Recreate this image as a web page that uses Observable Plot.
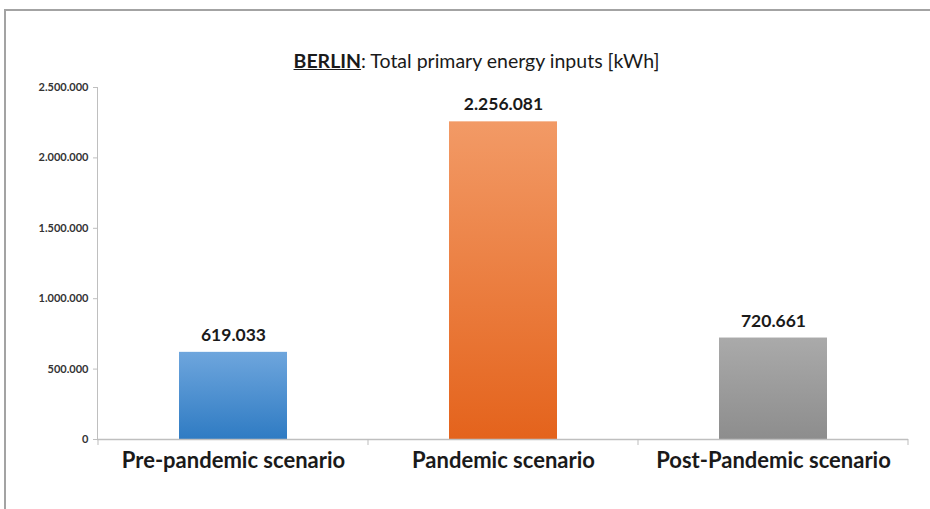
<!DOCTYPE html>
<html>
<head>
<meta charset="utf-8">
<script src="https://cdn.jsdelivr.net/npm/d3@7"></script>
<script src="https://cdn.jsdelivr.net/npm/@observablehq/plot@0.6"></script>
<style>
  html, body { margin: 0; padding: 0; background: #fff; }
  #wrap { position: relative; width: 930px; height: 509px; overflow: hidden; font-family: Lato, "Open Sans", sans-serif; background: #fff; }
  .bt { position: absolute; left: 4px; top: 9px; width: 926px; height: 2px; background: #a3a3a3; z-index: 5; }
  .bl { position: absolute; left: 4px; top: 9px; width: 2px; height: 500px; background: #a3a3a3; z-index: 5; }
  #title { position: absolute; top: 49px; left: 0; width: 953px; text-align: center; font-size: 19.5px; color: #1a1a1a; }
  #title b { text-decoration: underline; font-weight: 700; }
  #chart { position: absolute; top: 75px; left: 0; }
</style>
</head>
<body>
<div id="wrap">
  <div class="bt"></div>
  <div class="bl"></div>
  <div id="title"><b>BERLIN</b>: Total primary energy inputs [kWh]</div>
  <div id="chart"></div>
</div>
<script>
const categories = ["Pre-pandemic scenario", "Pandemic scenario", "Post-Pandemic scenario"];
const values = [619033, 2256081, 720661];
const yTicks = [0, 500000, 1000000, 1500000, 2000000, 2500000];

const gradients = [
  ["g0", "#6ea6dd", "#2f7bc3"],
  ["g1", "#f29a66", "#e4631c"],
  ["g2", "#aaaaaa", "#8d8d8d"]
];

const data = categories.map((c, i) => ({category: c, value: values[i], grad: `url(#${gradients[i][0]})`}));

const de = d3.formatLocale({decimal: ",", thousands: ".", grouping: [3], currency: ["", "€"]});
const fmt = de.format(",d");

const defsMark = () => {
  const defs = d3.create("svg:defs");
  for (const [id, top, bottom] of gradients) {
    const g = defs.append("linearGradient").attr("id", id).attr("x1", 0).attr("y1", 0).attr("x2", 0).attr("y2", 1);
    g.append("stop").attr("offset", "0%").attr("stop-color", top);
    g.append("stop").attr("offset", "100%").attr("stop-color", bottom);
  }
  return defs.node();
};

const bandTicks = (index, scales, values, dims) => {
  const x = scales.x, y = scales.y;
  const half = x.step() * 0.3;
  const xs = [x(categories[0]) - half, ...categories.map(c => x(c) + x.bandwidth() + half)];
  const g = d3.create("svg:g").attr("stroke", "#bdbdbd").attr("stroke-width", 1);
  for (const xv of xs) {
    g.append("line").attr("x1", xv).attr("x2", xv).attr("y1", y(0)).attr("y2", y(0) + 6);
  }
  return g.node();
};

const chart = Plot.plot({
  width: 930,
  height: 434,
  marginLeft: 97,
  marginRight: 22,
  marginTop: 12,
  marginBottom: 70,
  style: {fontFamily: "Lato, 'Open Sans', sans-serif", background: "transparent"},
  x: {domain: categories, paddingInner: 0.6, paddingOuter: 0.3, label: null},
  y: {domain: [0, 2500000], label: null},
  marks: [
    defsMark,
    Plot.barY(data, {x: "category", y: "value", fill: "grad"}),
    Plot.frame({anchor: "left", stroke: "#bfbfbf"}),
    Plot.ruleY([0], {stroke: "#bfbfbf", strokeWidth: 1.5}),
    bandTicks,
    Plot.axisY({ticks: yTicks, tickFormat: fmt, tickSize: 4, tickPadding: 5, fontSize: 11, fontWeight: "bold", stroke: "#bfbfbf", fill: "#333", label: null}),
    Plot.axisX({tickSize: 0, tickPadding: 13, fontSize: 22, fontWeight: "bold", fill: "#1a1a1a", label: null}),
    Plot.text(data, {x: "category", y: "value", text: d => fmt(d.value), dy: -17, lineAnchor: "middle", fontSize: 17.5, fontWeight: "bold", fill: "#1a1a1a"})
  ]
});
document.getElementById("chart").appendChild(chart);
</script>
</body>
</html>
